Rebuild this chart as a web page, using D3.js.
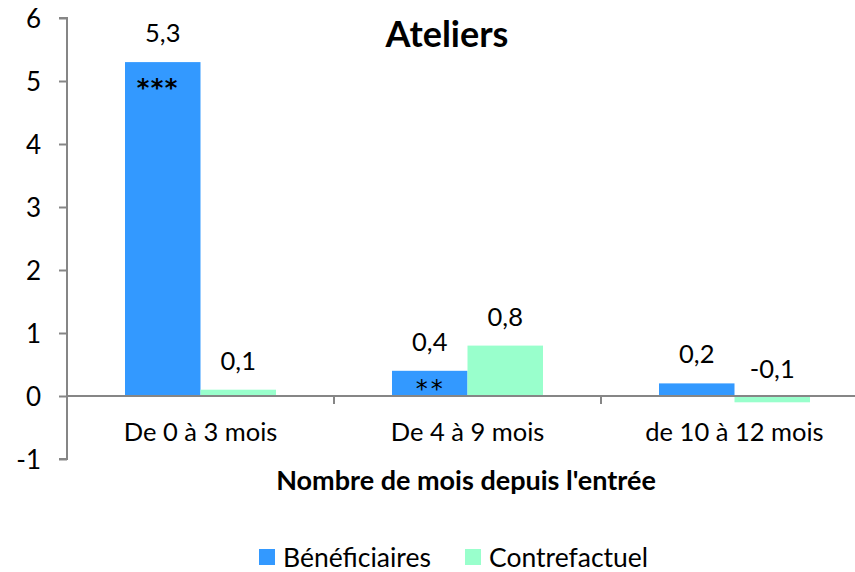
<!DOCTYPE html>
<html><head><meta charset="utf-8">
<script src="https://cdn.jsdelivr.net/npm/d3@7"></script>
<style>body{margin:0;background:#fff}text{font-family:Lato,"Open Sans",sans-serif}</style>
</head><body><svg id="c" width="855" height="572"></svg>
<script>
const categories = ["De 0 à 3 mois", "De 4 à 9 mois", "de 10 à 12 mois"];
const seriesNames = ["Bénéficiaires", "Contrefactuel"];
const beneficiaires = [5.3, 0.4, 0.2];
const contrefactuel = [0.1, 0.8, -0.1];
const stars = ["***", "**", ""];
const yTicks = [-1, 0, 1, 2, 3, 4, 5, 6];
const colors = ["#3399FF", "#99FFCC"];

const svg = d3.select("#c");
const fmt = v => d3.format(".1f")(v).replace(".", ",").replace("−", "-");
const y = d3.scaleLinear().domain([-1, 6]).range([459, 18]);
const x0 = d3.scaleBand().domain(categories).range([67, 868]).paddingInner(0).paddingOuter(0);
const bw = 75.5;
const x1 = d3.scaleBand().domain(seriesNames).range([x0.bandwidth()/2 - bw, x0.bandwidth()/2 + bw]);
const series = [beneficiaires, contrefactuel];
const FS = 25.5;

// bars
seriesNames.forEach((s, si) => {
  const g = svg.append("g");
  g.selectAll("rect").data(series[si]).join("rect")
    .attr("x", (d, i) => x0(categories[i]) + x1(s))
    .attr("width", x1.bandwidth())
    .attr("y", d => y(Math.max(d, 0)))
    .attr("height", d => Math.abs(y(d) - y(0)))
    .attr("fill", colors[si]);
  g.selectAll("text").data(series[si]).join("text")
    .attr("x", (d, i) => x0(categories[i]) + x1(s) + x1.bandwidth()/2)
    .attr("y", d => y(Math.max(d, 0)) - (d < 0 ? 18 : 20))
    .attr("text-anchor", "middle").attr("font-size", FS).attr("fill", "#000")
    .text(d => fmt(d));
});
// stars
svg.append("g").selectAll("text").data(stars).join("text")
  .attr("x", (d, i) => x0(categories[i]) + x1(seriesNames[0]) + x1.bandwidth()/2 - (d.length === 3 ? 5 : -1))
  .attr("y", (d, i) => d.length === 3 ? y(beneficiaires[i]) + 34 : y(0) + 1)
  .attr("text-anchor", "middle").attr("font-size", 24)
  .attr("letter-spacing", d => d.length === 3 ? 1.5 : 3)
  .attr("font-weight", d => d.length === 3 ? "bold" : "normal")
  .style("font-family", "'DejaVu Sans'")
  .text(d => d);

// y axis
const yAxis = d3.axisLeft(y).tickValues(yTicks).tickSize(8).tickFormat(d => d < 0 ? "-" + Math.abs(d) : d);
const ya = svg.append("g").attr("transform", "translate(67,0)").call(yAxis);
ya.select(".domain").attr("stroke", "#868686").attr("stroke-width", 2).attr("d", "M-8,18H0V459H-8");
ya.selectAll(".tick line").attr("stroke", "#868686").attr("stroke-width", 2);
ya.selectAll(".tick text").attr("font-size", 26).attr("fill", "#000").attr("x", -26).attr("dy", "0.35em").style("font-family", "Lato");

// x axis line at 0
svg.append("line").attr("x1", 67).attr("x2", 855).attr("y1", y(0)).attr("y2", y(0)).attr("stroke", "#868686").attr("stroke-width", 2);
// category separators
svg.append("g").selectAll("line").data(categories.slice(1)).join("line")
  .attr("x1", d => x0(d)).attr("x2", d => x0(d)).attr("y1", y(0)).attr("y2", y(0) + 8)
  .attr("stroke", "#868686").attr("stroke-width", 2);
// category labels
svg.append("g").selectAll("text").data(categories).join("text")
  .attr("x", d => x0(d) + x0.bandwidth()/2).attr("y", 441)
  .attr("text-anchor", "middle").attr("font-size", FS).text(d => d);

// title
svg.append("text").attr("x", 447).attr("y", 47).attr("text-anchor", "middle")
  .attr("font-size", 36).attr("font-weight", "bold").text("Ateliers");
// axis title
svg.append("text").attr("x", 466).attr("y", 490).attr("text-anchor", "middle")
  .attr("font-size", 27).attr("font-weight", "bold").text("Nombre de mois depuis l'entrée");

// legend
const legX = [259, 465];
seriesNames.forEach((s, i) => {
  svg.append("rect").attr("x", legX[i]).attr("y", 549).attr("width", 16).attr("height", 16).attr("fill", colors[i]);
  svg.append("text").attr("x", legX[i] + 24).attr("y", 567).attr("font-size", 26.5).text(s);
});
</script></body></html>
